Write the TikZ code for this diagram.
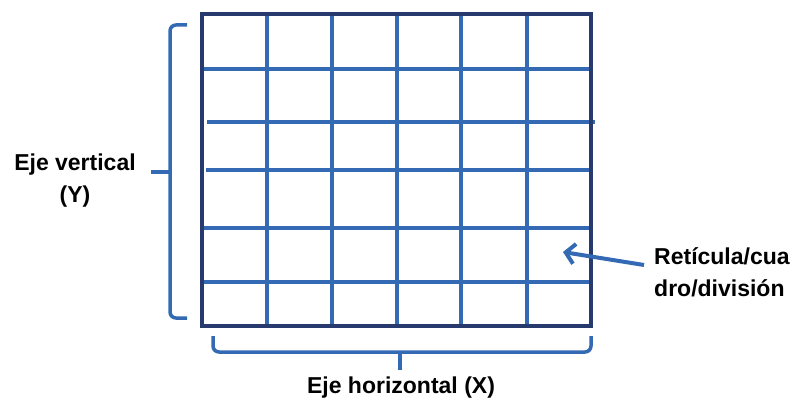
\documentclass[tikz,border=0pt]{standalone}
\usepackage{fontspec}
\setmainfont{Liberation Sans}
\usetikzlibrary{positioning}
\usetikzlibrary{arrows.meta}

\definecolor{azulrejilla}{RGB}{52,106,180}
\definecolor{azulmarco}{RGB}{38,58,110}

\begin{document}
\begin{tikzpicture}[x=1pt,y=-1pt
  ,rejilla/.style={azulrejilla,line width=4.5pt}
  ,marco/.style={azulmarco,line width=3.5pt}
  ,llave/.style={azulrejilla,line width=3.5pt,rounded corners=6pt}
  ,etiqueta/.style={font=\bfseries\fontsize{23}{32}\selectfont,inner sep=2pt}
  ,flecha/.style={azulrejilla,line width=4pt,-{Straight Barb[length=9pt,width=20pt]}}]
\useasboundingbox (0,0) rectangle (794,404);
% lineas de la reticula
\foreach \x in {267,332,397,461,527}
  \draw[rejilla] (\x,14) -- (\x,326);
\draw[rejilla] (202,69) -- (592,69);
\draw[rejilla] (207,122) -- (595,122);
\draw[rejilla] (206,170) -- (593,170);
\draw[rejilla] (202,228) -- (591,228);
\draw[rejilla] (202,282) -- (591,282);
\draw[marco] (202,14) rectangle (591,326);
% llaves de los ejes
\draw[llave] (187,25) -| (170,318) -- (187,318);
\draw[llave] (170,172) -- (151,172);
\draw[llave] (213,336) |- (591,352) -- (591,336);
\draw[llave] (400,352) -- (400,370);
% etiquetas
\node[etiqueta,align=center] (ejey) at (75,181) {Eje vertical\\(Y)};
\node[etiqueta] (ejex) at (401,388) {Eje horizontal (X)};
\node[etiqueta,align=left,anchor=west] (reticula) at (652,272) {Retícula/cua\\dro/división};
\coordinate (celda) at (563,252);
\draw[flecha] ([yshift=7pt,xshift=-8pt]reticula.west) -- (celda);
\end{tikzpicture}
\end{document}
